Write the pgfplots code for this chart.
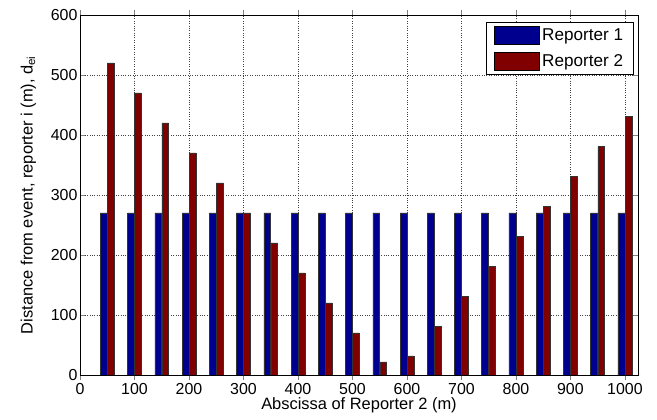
\documentclass[border=0pt]{standalone}
\usepackage{pgfplots}
\pgfplotsset{compat=1.18}
\usepackage{fontspec}
\setmainfont{Liberation Sans}
\definecolor{rone}{RGB}{0,0,143}
\definecolor{rtwo}{RGB}{128,0,0}
\begin{document}
\begin{tikzpicture}
\useasboundingbox (-80bp,-45bp) rectangle (577bp,375bp);
\begin{axis}[
  scale only axis,
  width=558bp, height=360bp,
  xmin=0, xmax=1024, ymin=0, ymax=600,
  xtick={0,100,...,1000}, ytick={0,100,...,600},
  tick align=inside, tick pos=both,
  major tick length=5bp,
  grid=major,
  major grid style={dotted, black!75, line width=0.5pt},
  axis line style={black, line width=0.6pt},
  /pgf/number format/assume math mode=true,
  /pgf/number format/1000 sep={},
  ticklabel style={font=\fontsize{16}{18}\selectfont},
  xticklabel style={inner ysep=0bp, yshift=-3bp},
  yticklabel style={xshift=1bp},
  label style={font=\fontsize{16.5}{18}\selectfont},
  xlabel={Abscissa of Reporter 2 (m)},
  ylabel={Distance from event, reporter i (m), d$_{\mathrm{ei}}$},
  xlabel style={inner ysep=0bp, yshift=-3bp},
  ylabel style={yshift=8bp},
  ybar, bar width=12.5,
  legend style={at={(1,1)}, anchor=north east, xshift=-4bp, yshift=-7bp,
    font=\fontsize{17.2}{19}\selectfont, draw=black, line width=0.6pt,
    inner xsep=8bp, inner ysep=4bp, row sep=7bp,
    nodes={inner xsep=2.5bp, inner ysep=1bp}},
  legend cell align=left,
  legend image code/.code={\draw[#1, draw=black] (0bp,-9bp) rectangle (45bp,9bp);},
]
\addplot[fill=rone, draw=black!80, line width=0.5pt, bar shift=-6.5] coordinates {
(50,270) (100,270) (150,270) (200,270) (250,270) (300,270) (350,270) (400,270) (450,270) (500,270)
(550,270) (600,270) (650,270) (700,270) (750,270) (800,270) (850,270) (900,270) (950,270) (1000,270)};
\addlegendentry{Reporter 1}
\addplot[fill=rtwo, draw=black!80, line width=0.5pt, bar shift=6.5] coordinates {
(50,520) (100,470) (150,420) (200,370) (250,320) (300,270) (350,220) (400,170) (450,120) (500,70)
(550,22) (600,32) (650,81) (700,131) (750,181) (800,231) (850,281) (900,331) (950,381) (1000,431)};
\addlegendentry{Reporter 2}
\end{axis}
\end{tikzpicture}
\end{document}
